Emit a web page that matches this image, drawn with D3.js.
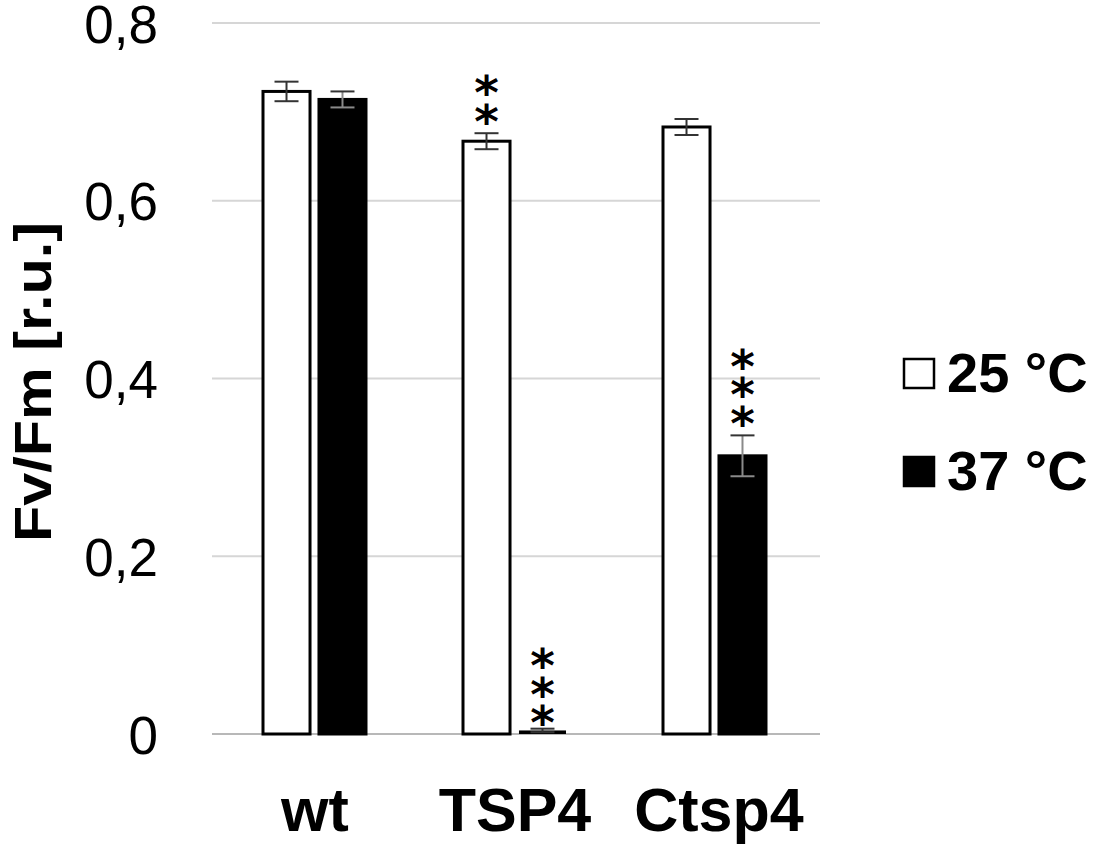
<!DOCTYPE html>
<html>
<head>
<meta charset="utf-8">
<script src="https://cdn.jsdelivr.net/npm/d3@7"></script>
<style>
  body { margin: 0; background: #fff; }
  text { font-family: Arial, "Liberation Sans", sans-serif; }
</style>
</head>
<body>
<svg id="chart" width="1103" height="851"></svg>
<script>
// data
const strains = ['wt', 'TSP4', 'Ctsp4'];
const temps = ['25 °C', '37 °C'];
const fv25 = [0.723, 0.667, 0.683];
const fv37 = [0.714, 0.004, 0.313];
const err25 = [0.011, 0.009, 0.009];
const err37 = [0.009, 0.002, 0.023];
const stars25 = ['', '**', ''];
const stars37 = ['', '***', '***'];
const yTicks = [0, 0.2, 0.4, 0.6, 0.8];

const svg = d3.select('#chart');
const plot = { left: 212, right: 820, top: 23, bottom: 734 };

const y = d3.scaleLinear().domain([0, 0.8]).range([plot.bottom, plot.top]);
const x = d3.scaleBand().domain(strains).range([213, 813]);
const xs = d3.scaleBand().domain(temps).range([0, 103]).paddingInner(0.16);
const colors = { '25 °C': '#fff', '37 °C': '#000' };

// gridlines
svg.append('g')
  .selectAll('line')
  .data(yTicks)
  .join('line')
  .attr('x1', plot.left).attr('x2', plot.right)
  .attr('y1', d => y(d)).attr('y2', d => y(d))
  .attr('stroke', d => d === 0 ? '#b8b8b8' : '#d6d6d6')
  .attr('stroke-width', 2);

// y axis labels, the axis line itself is hidden
const yAxis = d3.axisLeft(y).tickValues(yTicks).tickSize(0).tickPadding(0)
  .tickFormat(d => d === 0 ? '0' : d3.format('.1f')(d).replace('.', ','));
svg.append('g')
  .attr('transform', 'translate(158,0)')
  .call(yAxis)
  .call(g => g.select('.domain').remove())
  .call(g => g.selectAll('text')
    .attr('font-size', 53).attr('fill', '#000').attr('dy', '0.36em')
    .style('font-family', 'Arial, "Liberation Sans", sans-serif'));

// bars
const rows = [];
strains.forEach((s, i) => {
  rows.push({ strain: s, temp: temps[0], v: fv25[i], e: err25[i], st: stars25[i] });
  rows.push({ strain: s, temp: temps[1], v: fv37[i], e: err37[i], st: stars37[i] });
});
const barX = d => x(d.strain) + 50 + xs(d.temp);
const bw = xs.bandwidth();

svg.append('g')
  .selectAll('rect')
  .data(rows)
  .join('rect')
  .attr('x', barX)
  .attr('y', d => y(d.v))
  .attr('width', bw)
  .attr('height', d => y(0) - y(d.v))
  .attr('fill', d => colors[d.temp])
  .attr('stroke', '#000')
  .attr('stroke-width', d => d.v > 0.01 ? 3 : 0);

// error bars
const eb = svg.append('g').attr('stroke-width', 2);
rows.forEach(d => {
  const cx = barX(d) + bw / 2;
  const dark = d.temp === temps[0] || d.v < 0.01;
  eb.append('line').attr('x1', cx).attr('x2', cx).attr('y1', y(d.v + d.e)).attr('y2', y(d.v - d.e))
    .attr('stroke', dark ? '#333' : '#8a8a8a');
  [d.v + d.e, d.v - d.e].forEach(val => {
    eb.append('line').attr('x1', cx - 12).attr('x2', cx + 12).attr('y1', y(val)).attr('y2', y(val))
      .attr('stroke', dark || val > d.v ? '#333' : '#8a8a8a');
  });
});

// significance stars: one vertical text per bar so the column stays a single label
const starSize = 47, starStep = 28.5;
rows.filter(d => d.st).forEach(d => {
  const cx = barX(d) + bw / 2;
  const t = svg.append('text')
    .attr('x', cx)
    .attr('y', 0)
    .attr('font-size', starSize)
    .attr('font-weight', 'bold')
    .style('font-family', '"DejaVu Sans", sans-serif')
    .style('writing-mode', 'vertical-rl')
    .style('text-orientation', 'upright')
    .text(d.st);
  const adv = t.node().getComputedTextLength() / d.st.length;
  t.style('letter-spacing', (starStep - adv) + 'px');
  // last star sits just above the error cap
  const gap = d.v < 0.01 ? 10 : 16;
  const bottomCenter = y(d.v + d.e) - gap;
  const firstCenter = bottomCenter - (d.st.length - 1) * starStep;
  t.attr('y', firstCenter - starSize * 0.5);
});

// category labels
svg.append('g')
  .selectAll('text')
  .data(strains)
  .join('text')
  .attr('x', (d, i) => x(d) + 50 + 52 + (i === 2 ? 4 : 0))
  .attr('y', 831)
  .attr('text-anchor', 'middle')
  .attr('font-size', 61)
  .attr('font-weight', 'bold')
  .text(d => d);

// y axis title
svg.append('text')
  .attr('transform', 'translate(51,382) rotate(-90)')
  .attr('text-anchor', 'middle')
  .attr('font-size', 52)
  .attr('font-weight', 'bold')
  .attr('textLength', 320)
  .attr('lengthAdjust', 'spacingAndGlyphs')
  .text('Fv/Fm [r.u.]');

// legend
const legend = svg.append('g').attr('transform', 'translate(904,0)');
temps.forEach((t, i) => {
  const ly = 373 + i * 98;
  legend.append('rect').attr('x', 0).attr('y', ly - 14).attr('width', 30).attr('height', 29)
    .attr('fill', colors[t]).attr('stroke', '#000').attr('stroke-width', 2.5);
  legend.append('text').attr('x', 43).attr('y', ly + 19)
    .attr('font-size', 56).attr('font-weight', 'bold').text(t);
});
</script>
</body>
</html>
